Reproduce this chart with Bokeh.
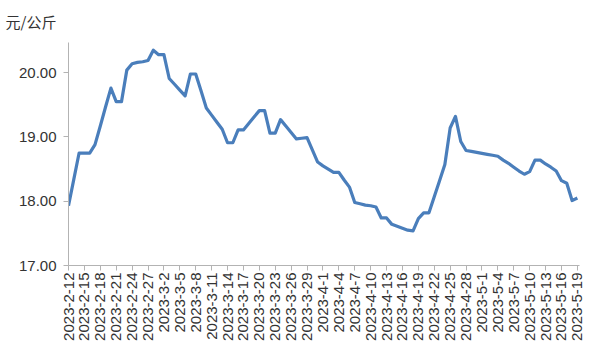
import math
from datetime import date, timedelta
from bokeh.plotting import figure
from bokeh.models import Range1d, FixedTicker, NumeralTickFormatter, Title
from bokeh.embed import file_html
from bokeh.resources import INLINE

# ---- data ----
start_day = date(2023, 2, 12)
n_days = 97
dates = [start_day + timedelta(days=i) for i in range(n_days)]
date_labels = [f"{d.year}-{d.month}-{d.day}" for d in dates]

prices = [
    17.93, 18.34, 18.75, 18.75, 18.75, 18.88, 19.17, 19.47, 19.76, 19.55,
    19.55, 20.04, 20.14, 20.16, 20.17, 20.19, 20.35, 20.28, 20.28, 19.91,
    19.82, 19.73, 19.64, 19.98, 19.98, 19.72, 19.45, 19.34, 19.23, 19.12,
    18.91, 18.91, 19.11, 19.11, 19.21, 19.31, 19.41, 19.41, 19.06, 19.06,
    19.27, 19.17, 19.07, 18.97, 18.98, 18.99, 18.80, 18.61, 18.55, 18.50,
    18.45, 18.45, 18.33, 18.22, 17.98, 17.96, 17.94, 17.93, 17.91, 17.74,
    17.74, 17.64, 17.61, 17.58, 17.55, 17.54, 17.73, 17.82, 17.82, 18.07,
    18.32, 18.57, 19.14, 19.32, 18.93, 18.79, 18.775, 18.76, 18.745, 18.73,
    18.715, 18.70, 18.64, 18.59, 18.53, 18.47, 18.42, 18.46, 18.64, 18.64,
    18.58, 18.53, 18.47, 18.32, 18.28, 18.01, 18.05,
]
y_ticks = [17, 18, 19, 20]
unit_label = "元/公斤"

x = list(range(n_days))

p = figure(width=591, height=353, output_backend="svg", toolbar_location=None,
           x_range=Range1d(0, 96.4), y_range=Range1d(17, 20.47),
           min_border_left=68, min_border_right=12, min_border_top=42,
           min_border_bottom=88)
p.outline_line_color = None
p.xgrid.visible = False
p.ygrid.visible = False
p.background_fill_color = "white"
p.border_fill_color = "white"

p.line(x, prices, line_color="#4a7ebb", line_width=3.2, line_join="round")

axis_color = "#b3b3b3"
label_color = "#333333"
font = "Liberation Sans"

xa = p.xaxis[0]
xa.ticker = FixedTicker(ticks=list(range(0, n_days, 3)))
xa.major_label_overrides = {i: date_labels[i] for i in range(0, n_days, 3)}
xa.major_label_orientation = math.pi / 2
xa.major_label_text_font = font
xa.major_label_text_font_size = "15px"
xa.major_label_text_color = label_color
xa.major_label_standoff = 2
xa.axis_line_color = axis_color
xa.major_tick_line_color = axis_color
xa.major_tick_out = 5
xa.major_tick_in = 0
xa.minor_tick_line_color = None

ya = p.yaxis[0]
ya.ticker = FixedTicker(ticks=y_ticks)
ya.formatter = NumeralTickFormatter(format="0.00")
ya.major_label_text_font = font
ya.major_label_text_font_size = "15px"
ya.major_label_text_color = label_color
ya.major_label_standoff = 7
ya.axis_line_color = axis_color
ya.major_tick_line_color = axis_color
ya.major_tick_out = 5
ya.major_tick_in = 0
ya.minor_tick_line_color = None

title = Title(text=unit_label, align="left", offset=-63, standoff=18,
              vertical_align="top",
              text_font="Noto Sans CJK SC", text_font_size="15px",
              text_font_style="normal", text_color=label_color)
p.add_layout(title, "above")

open("out.html", "w").write(file_html(p, INLINE))
